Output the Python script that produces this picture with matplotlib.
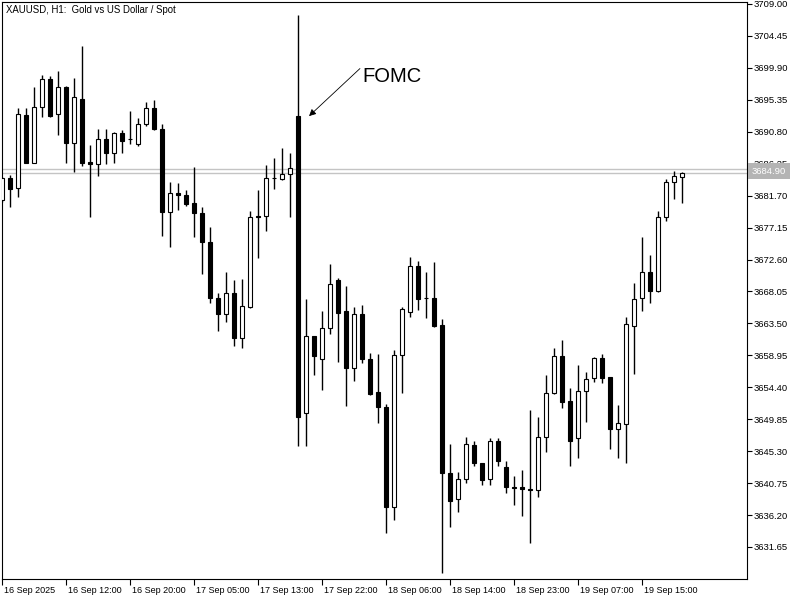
import matplotlib
matplotlib.use('Agg')
import matplotlib.pyplot as plt
import matplotlib.transforms as mtransforms
import numpy as np

plt.rcParams['font.family'] = ['Liberation Sans', 'DejaVu Sans']

# XAUUSD H1 candles, oldest first
opens = [3681.08, 3684.21, 3682.79, 3693.19, 3686.35, 3694.33, 3698.32, 3693.33, 3697.18, 3689.20,
         3695.47, 3686.49, 3686.21, 3689.77, 3687.77, 3690.62, 3689.77, 3689.06, 3691.91, 3694.18,
         3691.19, 3679.37, 3682.08, 3681.79, 3680.65, 3679.23, 3675.09, 3667.12, 3664.84, 3667.83,
         3661.42, 3665.83, 3678.80, 3678.80, 3684.21, 3684.07, 3684.78, 3693.05, 3650.73, 3661.70,
         3658.43, 3662.84, 3669.68, 3665.27, 3657.14, 3664.84, 3658.43, 3653.73, 3651.59, 3637.34,
         3659.00, 3665.12, 3671.68, 3667.12, 3667.12, 3663.27, 3642.19, 3638.48, 3641.33, 3646.18,
         3643.61, 3641.33, 3646.75, 3643.04, 3640.19, 3640.19, 3639.91, 3639.76, 3647.32, 3653.58,
         3658.85, 3652.44, 3647.17, 3653.87, 3655.72, 3658.57, 3655.86, 3648.45, 3649.17, 3663.13,
         3667.12, 3670.82, 3668.11, 3678.66, 3683.64, 3684.35]
highs = [3684.35, 3684.64, 3694.18, 3694.18, 3697.18, 3698.89, 3698.74, 3699.46, 3697.32, 3698.46,
         3703.02, 3688.91, 3691.19, 3691.19, 3690.77, 3691.05, 3693.76, 3692.76, 3695.04, 3695.32,
         3691.91, 3683.64, 3683.50, 3682.50, 3685.78, 3680.08, 3677.23, 3667.83, 3670.82, 3669.68,
         3669.82, 3679.51, 3682.50, 3686.06, 3687.06, 3688.49, 3687.77, 3707.43, 3666.97, 3661.70,
         3665.27, 3671.96, 3669.97, 3668.83, 3665.83, 3666.12, 3659.28, 3659.14, 3652.02, 3659.71,
         3665.83, 3672.96, 3672.39, 3670.82, 3672.25, 3664.13, 3646.32, 3642.33, 3647.32, 3646.75,
         3643.61, 3647.17, 3647.17, 3643.90, 3641.76, 3642.61, 3651.16, 3650.16, 3656.15, 3659.99,
         3661.13, 3654.30, 3657.57, 3656.57, 3658.71, 3659.14, 3655.86, 3651.87, 3664.41, 3669.25,
         3675.81, 3673.24, 3679.51, 3684.07, 3685.21, 3685.07]
lows = [3680.79, 3680.08, 3681.51, 3686.35, 3686.35, 3692.90, 3692.90, 3690.34, 3686.35, 3685.07,
        3685.92, 3678.66, 3684.50, 3686.21, 3686.35, 3687.77, 3689.06, 3688.77, 3691.62, 3691.05,
        3675.95, 3674.38, 3679.65, 3680.22, 3675.81, 3670.54, 3666.40, 3662.42, 3663.70, 3660.28,
        3659.99, 3665.69, 3672.82, 3676.66, 3682.65, 3683.93, 3678.66, 3646.03, 3646.03, 3656.15,
        3654.01, 3661.99, 3658.00, 3651.73, 3655.29, 3657.86, 3653.30, 3649.31, 3633.64, 3635.49,
        3653.58, 3664.41, 3665.41, 3664.27, 3662.99, 3627.94, 3634.49, 3636.63, 3640.76, 3643.18,
        3640.48, 3640.48, 3643.18, 3639.34, 3637.63, 3636.06, 3632.21, 3638.77, 3645.18, 3653.44,
        3651.45, 3643.18, 3644.32, 3649.45, 3655.15, 3655.01, 3645.61, 3644.32, 3643.61, 3656.29,
        3665.27, 3666.40, 3667.97, 3678.09, 3681.22, 3680.65]
closes = [3684.21, 3682.65, 3693.33, 3686.35, 3694.33, 3698.32, 3693.05, 3697.18, 3689.20, 3695.75,
          3686.35, 3686.21, 3689.77, 3687.77, 3690.62, 3689.48, 3689.70, 3691.91, 3694.18, 3691.19,
          3679.37, 3682.08, 3681.79, 3680.51, 3679.23, 3675.09, 3667.12, 3664.84, 3667.83, 3661.42,
          3665.98, 3678.66, 3678.66, 3684.21, 3684.14, 3684.78, 3685.64, 3650.16, 3661.70, 3658.85,
          3662.84, 3669.11, 3664.98, 3657.14, 3664.84, 3658.43, 3653.44, 3651.59, 3637.34, 3659.00,
          3665.55, 3671.68, 3666.97, 3667.05, 3663.13, 3642.19, 3638.20, 3641.33, 3646.32, 3643.61,
          3641.19, 3646.75, 3643.90, 3640.19, 3640.12, 3639.91, 3639.76, 3647.32, 3653.58, 3658.85,
          3652.30, 3646.75, 3653.87, 3655.58, 3658.57, 3655.72, 3648.45, 3649.31, 3663.41, 3666.97,
          3670.82, 3668.11, 3678.66, 3683.64, 3684.50, 3684.90]

date_labels = ['16 Sep 2025', '16 Sep 12:00', '16 Sep 20:00', '17 Sep 05:00', '17 Sep 13:00',
               '17 Sep 22:00', '18 Sep 06:00', '18 Sep 14:00', '18 Sep 23:00', '19 Sep 07:00',
               '19 Sep 15:00']
bars_per_label = 8

price_ticks = [3631.65, 3636.20, 3640.75, 3645.30, 3649.85, 3654.40, 3658.95, 3663.50, 3668.05,
               3672.60, 3677.15, 3681.70, 3686.25, 3690.80, 3695.35, 3699.90, 3704.45, 3709.00]

bid_price = 3684.90
ask_price = 3685.45

fomc_bar = 37

fig = plt.figure(figsize=(8, 6), dpi=100)
ax = fig.add_axes([1.5 / 800, 21 / 600, 745.5 / 800, 577 / 600])

x = np.arange(len(opens))
o = np.array(opens)
c = np.array(closes)
up = c >= o

ax.axhline(ask_price, color='#c4c4c4', lw=1, zorder=1)
ax.axhline(bid_price, color='#c4c4c4', lw=1, zorder=1)

ax.vlines(x, lows, highs, color='black', lw=1, zorder=2)
ax.bar(x, np.abs(c - o), bottom=np.minimum(o, c), width=0.55,
       color=np.where(up, 'white', 'black'), edgecolor='black', linewidth=0.8, zorder=3)

ax.set_xlim(-0.1, 93.09)
ax.set_ylim(3627.09, 3709.28)

# price axis on the right
ax.yaxis.tick_right()
ax.set_yticks(price_ticks)
ax.set_yticklabels([f'{v:.2f}' for v in price_ticks])
ax.tick_params(axis='y', direction='out', length=3.5, width=0.8, pad=1, labelsize=6.8)

# time axis
ax.set_xticks(x[::bars_per_label])
ax.set_xticklabels(date_labels)
ax.tick_params(axis='x', direction='out', length=4, width=0.8, pad=1, labelsize=6.5)
shift = mtransforms.ScaledTranslation(2 / 100, 0, fig.dpi_scale_trans)
for lab in ax.get_xticklabels():
    lab.set_horizontalalignment('left')
    lab.set_transform(lab.get_transform() + shift)

for s in ax.spines.values():
    s.set_color('black')
    s.set_linewidth(0.8)

fig.text(6 / 800, 1 - 10 / 600, 'XAUUSD, H1:  Gold vs US Dollar / Spot',
         fontsize=6.9, va='center', ha='left')

# current bid label on the price scale
trans = mtransforms.blended_transform_factory(ax.transAxes, ax.transData)
trans = trans + mtransforms.ScaledTranslation(5 / 100, 2 / 100, fig.dpi_scale_trans)
ax.text(1.0, bid_price, f'{bid_price:.2f}', transform=trans, ha='left', va='center',
        color='white', fontsize=6.8, clip_on=False, zorder=10,
        bbox=dict(boxstyle='square,pad=0.4', fc='#b4b4b4', ec='none'))

# FOMC annotation
ax.annotate('', xy=(fomc_bar + 1.09, 3692.76), xytext=(fomc_bar + 7.96, 3700.07),
            arrowprops=dict(arrowstyle='-|>', color='black', lw=0.6, mutation_scale=10))
ax.text(fomc_bar + 7.96, 3698.6, 'FOMC', fontsize=14.5, va='center', ha='left')

fig.savefig('out.png', dpi=100)
